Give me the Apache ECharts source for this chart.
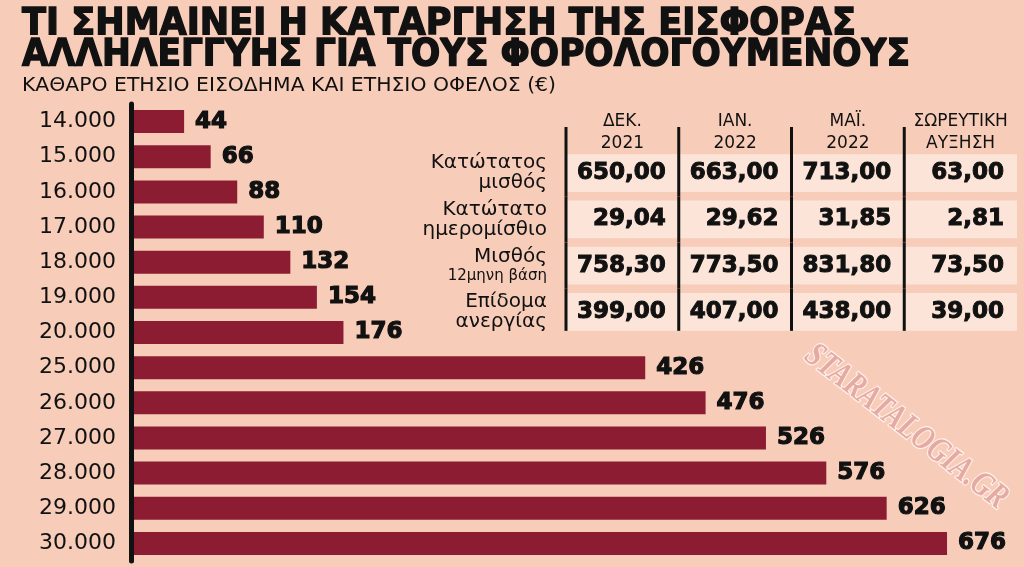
<!DOCTYPE html>
<html>
<head>
<meta charset="utf-8">
<script src="https://cdn.jsdelivr.net/npm/echarts@6/dist/echarts.min.js"></script>
<style>
  html, body { margin: 0; padding: 0; background: #f7cdb9; }
  #chart { width: 1024px; height: 567px; }
</style>
</head>
<body>
<div id="chart"></div>
<script>
// ετήσιο εισόδημα (κατηγορίες) και ετήσιο όφελος σε €
const incomeLevels = ['14.000', '15.000', '16.000', '17.000', '18.000', '19.000', '20.000',
    '25.000', '26.000', '27.000', '28.000', '29.000', '30.000'];
const annualBenefit = [44, 66, 88, 110, 132, 154, 176, 426, 476, 526, 576, 626, 676];

// πίνακας δεξιά
const tableCols = ['ΔΕΚ.\n2021', 'ΙΑΝ.\n2022', 'ΜΑΪ.\n2022', 'ΣΩΡΕΥΤΙΚΗ\nΑΥΞΗΣΗ'];
const tableRows = ['Κατώτατος\nμισθός', 'Κατώτατο\nημερομίσθιο', 'Μισθός\n{s|12μηνη βάση}', 'Επίδομα\nανεργίας'];
const minWage = [650.00, 663.00, 713.00, 63.00];
const minDailyWage = [29.04, 29.62, 31.85, 2.81];
const wage12m = [758.30, 773.50, 831.80, 73.50];
const unemploymentBenefit = [399.00, 407.00, 438.00, 39.00];

const title1 = 'ΤΙ ΣΗΜΑΙΝΕΙ Η ΚΑΤΑΡΓΗΣΗ ΤΗΣ ΕΙΣΦΟΡΑΣ';
const title2 = 'ΑΛΛΗΛΕΓΓΥΗΣ ΓΙΑ ΤΟΥΣ ΦΟΡΟΛΟΓΟΥΜΕΝΟΥΣ';
const subtitle = 'ΚΑΘΑΡΟ ΕΤΗΣΙΟ ΕΙΣΟΔΗΜΑ ΚΑΙ ΕΤΗΣΙΟ ΟΦΕΛΟΣ (€)';
const watermark = 'STARATALOGIA.GR';

const INK = '#111';
const BAR = '#8c1c32';
const BAND = '#fce4d8';

// κλίμακα κειμένου ώστε να πιάνει το πλάτος του πρωτοτύπου
const measureCtx = document.createElement('canvas').getContext('2d');
function fitScale(text, font, width) {
    measureCtx.font = font;
    return width / measureCtx.measureText(text).width;
}

const titleFont = 'bold 37px "DejaVu Sans"';
const subFont = '20px "DejaVu Sans"';

// κελιά πίνακα
const tableValues = [minWage, minDailyWage, wage12m, unemploymentBenefit];
const cells = [];
const cellText = [];
tableValues.forEach((row, r) => {
    row.forEach((v, c) => {
        cells.push([c, r]);
        cellText.push(v.toFixed(2).replace('.', ','));
    });
});

const chart = echarts.init(document.getElementById('chart'));

const option = {
    backgroundColor: '#f7cdb9',
    animation: false,
    grid: [
        { left: 131, right: 48, top: 104, bottom: 6 },
        { left: 566, right: 7, top: 150, bottom: 232 }
    ],
    xAxis: [
        { type: 'value', gridIndex: 0, min: 0, max: 700, show: false },
        {
            type: 'category', gridIndex: 1, position: 'top', data: tableCols,
            axisLine: { show: false }, axisTick: { show: false }, splitLine: { show: false },
            axisLabel: { interval: 0, margin: -5, fontFamily: 'DejaVu Sans', fontSize: 17, lineHeight: 22, color: INK }
        }
    ],
    yAxis: [
        {
            type: 'category', gridIndex: 0, inverse: true, data: incomeLevels, z: 5,
            axisLine: { show: true, lineStyle: { color: INK, width: 5 } },
            axisTick: { show: false },
            axisLabel: { margin: 15, fontFamily: 'DejaVu Sans', fontSize: 22, color: INK }
        },
        {
            type: 'category', gridIndex: 1, inverse: true, data: tableRows,
            axisLine: { show: false }, axisTick: { show: false }, splitLine: { show: false },
            axisLabel: {
                interval: 0, margin: 19, fontFamily: 'DejaVu Sans', fontSize: 20, lineHeight: 20, color: INK, align: 'right',
                rich: { s: { fontFamily: 'DejaVu Sans', fontSize: 15, color: INK, lineHeight: 18 } }
            }
        }
    ],
    series: [
        {
            type: 'bar',
            xAxisIndex: 0, yAxisIndex: 0,
            data: annualBenefit,
            barWidth: 23,
            itemStyle: { color: BAR },
            label: {
                show: true, position: 'right', distance: 11,
                fontFamily: 'DejaVu Sans', fontWeight: 'bold', fontSize: 23, color: INK,
                textBorderColor: INK, textBorderWidth: 1.2
            }
        },
        {
            type: 'custom',
            xAxisIndex: 1, yAxisIndex: 1,
            data: cells,
            clip: false,
            renderItem: (params, api) => {
                const col = api.value(0);
                const row = api.value(1);
                const pt = api.coord([col, row]);
                const size = api.size([1, 1]);
                const w = size[0], h = size[1];
                const bh = h * 0.82;
                const left = pt[0] - w / 2;
                const top = row === 0 ? pt[1] - h / 2 - 23 : pt[1] - h / 2;
                const bottom = row === tableRows.length - 1 ? pt[1] + bh / 2 : pt[1] + h / 2;
                return {
                    type: 'group',
                    children: [
                        { type: 'rect', shape: { x: left, y: pt[1] - bh / 2, width: w, height: bh }, style: { fill: BAND } },
                        { type: 'line', shape: { x1: left, y1: top, x2: left, y2: bottom }, style: { stroke: INK, lineWidth: 3 } },
                        {
                            type: 'text',
                            style: {
                                x: left + w - 13, y: pt[1], text: cellText[params.dataIndex],
                                font: 'bold 23px "DejaVu Sans"', fill: INK, stroke: INK, lineWidth: 1,
                                align: 'right', verticalAlign: 'middle'
                            }
                        }
                    ]
                };
            }
        }
    ],
    graphic: [
        {
            type: 'text', x: 22, y: 24, scaleX: fitScale(title1, titleFont, 834),
            style: { text: title1, font: titleFont, fill: INK, stroke: INK, lineWidth: 1.4, verticalAlign: 'middle', textVerticalAlign: 'middle' }
        },
        {
            type: 'text', x: 22, y: 55, scaleX: fitScale(title2, titleFont, 888),
            style: { text: title2, font: titleFont, fill: INK, stroke: INK, lineWidth: 1.4, verticalAlign: 'middle', textVerticalAlign: 'middle' }
        },
        {
            type: 'text', x: 22, y: 86, scaleX: fitScale(subtitle, subFont, 534),
            style: { text: subtitle, font: subFont, fill: INK, verticalAlign: 'middle', textVerticalAlign: 'middle' }
        },
        {
            type: 'text', x: 906, y: 427, rotation: -0.66, scaleX: 0.78, z: 10,
            style: {
                text: watermark, font: 'bold italic 35px "Liberation Serif"',
                fill: 'rgba(228,168,160,0.95)', stroke: 'rgba(255,242,238,0.95)', lineWidth: 2.5,
                shadowColor: 'rgba(150,90,80,0.3)', shadowBlur: 1, shadowOffsetX: 1, shadowOffsetY: 1,
                align: 'center', verticalAlign: 'middle', textAlign: 'center', textVerticalAlign: 'middle'
            }
        }
    ]
};

chart.setOption(option);
window.addEventListener('resize', () => chart.resize());
</script>
</body>
</html>
